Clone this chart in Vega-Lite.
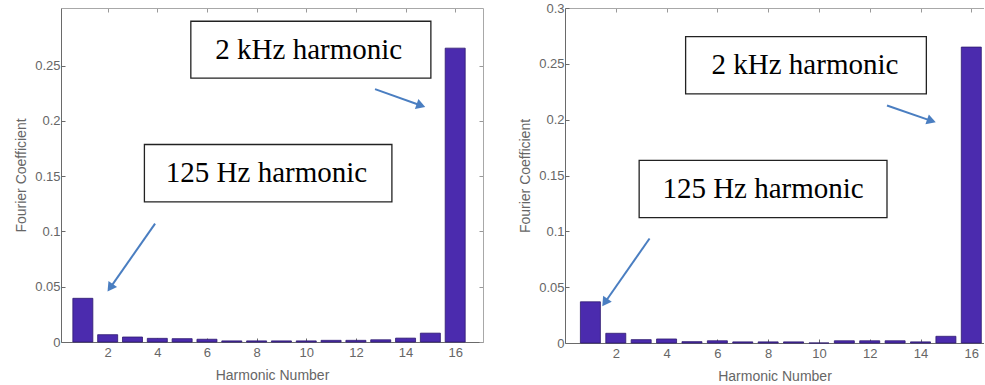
{
  "$schema": "https://vega.github.io/schema/vega-lite/v6.json",
  "background": "white",
  "padding": {"left": 14, "top": 2, "right": 0, "bottom": 0},
  "spacing": 34,
  "config": {
    "view": {"stroke": null},
    "axis": {
      "labelFont": "Liberation Sans", "labelFontSize": 13, "labelColor": "#666666",
      "titleFont": "Liberation Sans", "titleFontSize": 14, "titleColor": "#666666", "titleFontWeight": "normal",
      "grid": false, "domainColor": "#6a6a6a", "tickColor": "#6a6a6a", "tickSize": -4, "format": "~g"
    }
  },
  "datasets": {
    "left": [
      {"h": 1, "c": 0.0395}, {"h": 2, "c": 0.0066}, {"h": 3, "c": 0.0045}, {"h": 4, "c": 0.0033},
      {"h": 5, "c": 0.003}, {"h": 6, "c": 0.0025}, {"h": 7, "c": 0.001}, {"h": 8, "c": 0.001},
      {"h": 9, "c": 0.001}, {"h": 10, "c": 0.001}, {"h": 11, "c": 0.0015}, {"h": 12, "c": 0.0015},
      {"h": 13, "c": 0.002}, {"h": 14, "c": 0.0035}, {"h": 15, "c": 0.008}, {"h": 16, "c": 0.2657}
    ],
    "right": [
      {"h": 1, "c": 0.0369}, {"h": 2, "c": 0.0087}, {"h": 3, "c": 0.003}, {"h": 4, "c": 0.0036},
      {"h": 5, "c": 0.0012}, {"h": 6, "c": 0.002}, {"h": 7, "c": 0.001}, {"h": 8, "c": 0.001},
      {"h": 9, "c": 0.001}, {"h": 10, "c": 0}, {"h": 11, "c": 0.002}, {"h": 12, "c": 0.002},
      {"h": 13, "c": 0.002}, {"h": 14, "c": 0.001}, {"h": 15, "c": 0.006}, {"h": 16, "c": 0.265}
    ],
    "leftBoxes": [
      {"label": "2 kHz harmonic", "x1": 5.35, "x2": 15.02, "y1": 0.2386, "y2": 0.29, "tx": 10.1, "ty": 0.2644},
      {"label": "125 Hz harmonic", "x1": 3.48, "x2": 13.45, "y1": 0.1267, "y2": 0.1786, "tx": 8.4, "ty": 0.1527}
    ],
    "leftArrows": [
      {"x1": 12.77, "y1": 0.2286, "x2": 14.62, "y2": 0.2138, "angle": 109.5},
      {"x1": 3.91, "y1": 0.107, "x2": 2.1, "y2": 0.049, "angle": 215}
    ],
    "rightBoxes": [
      {"label": "2 kHz harmonic", "x1": 4.75, "x2": 14.23, "y1": 0.2231, "y2": 0.2744, "tx": 9.45, "ty": 0.2488},
      {"label": "125 Hz harmonic", "x1": 2.92, "x2": 12.68, "y1": 0.1123, "y2": 0.1635, "tx": 7.8, "ty": 0.1379}
    ],
    "rightArrows": [
      {"x1": 12.68, "y1": 0.2127, "x2": 14.43, "y2": 0.1989, "angle": 109},
      {"x1": 3.33, "y1": 0.0936, "x2": 1.57, "y2": 0.0363, "angle": 214.8}
    ]
  },
  "hconcat": [
    {
      "width": 422,
      "height": 334,
      "resolve": {"axis": {"x": "independent", "y": "independent"}},
      "layer": [
        {
          "data": {"name": "left"},
          "mark": {"type": "bar", "size": 20, "color": "#4B2BAE", "stroke": "#2E1A70", "strokeWidth": 0.8},
          "encoding": {
            "x": {"field": "h", "type": "quantitative", "scale": {"domain": [0.12, 17.12], "nice": false, "zero": false, "padding": 0},
                  "axis": {"orient": "bottom", "values": [2, 4, 6, 8, 10, 12, 14, 16], "title": "Harmonic Number", "labelPadding": 8, "titlePadding": 9}},
            "y": {"field": "c", "type": "quantitative", "scale": {"domain": [0, 0.302], "nice": false},
                  "axis": {"orient": "left", "values": [0, 0.05, 0.1, 0.15, 0.2, 0.25], "title": "Fourier Coefficient", "labelPadding": 5, "titlePadding": 6}}
          }
        },
        {
          "data": {"name": "leftBoxes"},
          "mark": {"type": "rect", "fill": "white", "stroke": "#222222", "strokeWidth": 1.3},
          "encoding": {
            "x": {"field": "x1", "type": "quantitative", "axis": {"orient": "top", "values": [2, 4, 6, 8, 10, 12, 14, 16], "labels": false, "domainColor": "#a8a8a8", "title": null, "tickColor": "#999999"}},
            "x2": {"field": "x2"},
            "y": {"field": "y1", "type": "quantitative", "axis": {"orient": "right", "values": [0, 0.05, 0.1, 0.15, 0.2, 0.25], "labels": false, "domainColor": "#a8a8a8", "title": null, "tickColor": "#999999"}},
            "y2": {"field": "y2"}
          }
        },
        {
          "data": {"name": "leftBoxes"},
          "mark": {"type": "text", "font": "Liberation Serif", "fontSize": 29, "color": "black", "align": "center", "baseline": "middle"},
          "encoding": {
            "x": {"field": "tx", "type": "quantitative", "axis": null},
            "y": {"field": "ty", "type": "quantitative", "axis": null},
            "text": {"field": "label"}
          }
        },
        {
          "data": {"name": "leftArrows"},
          "mark": {"type": "rule", "color": "#4A7EC1", "strokeWidth": 2},
          "encoding": {
            "x": {"field": "x1", "type": "quantitative", "axis": null},
            "y": {"field": "y1", "type": "quantitative", "axis": null},
            "x2": {"field": "x2"},
            "y2": {"field": "y2"}
          }
        },
        {
          "data": {"name": "leftArrows"},
          "mark": {"type": "point", "shape": "triangle-up", "filled": true, "color": "#4A7EC1", "opacity": 1, "size": 110},
          "encoding": {
            "x": {"field": "x2", "type": "quantitative", "axis": null},
            "y": {"field": "y2", "type": "quantitative", "axis": null},
            "angle": {"field": "angle", "type": "quantitative", "scale": null}
          }
        }
      ]
    },
    {
      "width": 419,
      "height": 335,
      "resolve": {"axis": {"x": "independent", "y": "independent"}},
      "layer": [
        {
          "data": {"name": "right"},
          "mark": {"type": "bar", "size": 20, "color": "#4B2BAE", "stroke": "#2E1A70", "strokeWidth": 0.8},
          "encoding": {
            "x": {"field": "h", "type": "quantitative", "scale": {"domain": [0, 16.5], "nice": false, "zero": false, "padding": 0},
                  "axis": {"orient": "bottom", "values": [2, 4, 6, 8, 10, 12, 14, 16], "title": "Harmonic Number", "labelPadding": 8, "titlePadding": 9}},
            "y": {"field": "c", "type": "quantitative", "scale": {"domain": [0, 0.3], "nice": false},
                  "axis": {"orient": "left", "values": [0, 0.05, 0.1, 0.15, 0.2, 0.25, 0.3], "title": "Fourier Coefficient", "labelPadding": 5, "titlePadding": 6}}
          }
        },
        {
          "data": {"name": "rightBoxes"},
          "mark": {"type": "rect", "fill": "white", "stroke": "#222222", "strokeWidth": 1.3},
          "encoding": {
            "x": {"field": "x1", "type": "quantitative", "axis": {"orient": "top", "values": [2, 4, 6, 8, 10, 12, 14, 16], "labels": false, "domainColor": "#a8a8a8", "title": null, "tickColor": "#999999"}},
            "x2": {"field": "x2"},
            "y": {"field": "y1", "type": "quantitative", "axis": null},
            "y2": {"field": "y2"}
          }
        },
        {
          "data": {"name": "rightBoxes"},
          "mark": {"type": "text", "font": "Liberation Serif", "fontSize": 29, "color": "black", "align": "center", "baseline": "middle"},
          "encoding": {
            "x": {"field": "tx", "type": "quantitative", "axis": null},
            "y": {"field": "ty", "type": "quantitative", "axis": null},
            "text": {"field": "label"}
          }
        },
        {
          "data": {"name": "rightArrows"},
          "mark": {"type": "rule", "color": "#4A7EC1", "strokeWidth": 2},
          "encoding": {
            "x": {"field": "x1", "type": "quantitative", "axis": null},
            "y": {"field": "y1", "type": "quantitative", "axis": null},
            "x2": {"field": "x2"},
            "y2": {"field": "y2"}
          }
        },
        {
          "data": {"name": "rightArrows"},
          "mark": {"type": "point", "shape": "triangle-up", "filled": true, "color": "#4A7EC1", "opacity": 1, "size": 110},
          "encoding": {
            "x": {"field": "x2", "type": "quantitative", "axis": null},
            "y": {"field": "y2", "type": "quantitative", "axis": null},
            "angle": {"field": "angle", "type": "quantitative", "scale": null}
          }
        }
      ]
    }
  ]
}
